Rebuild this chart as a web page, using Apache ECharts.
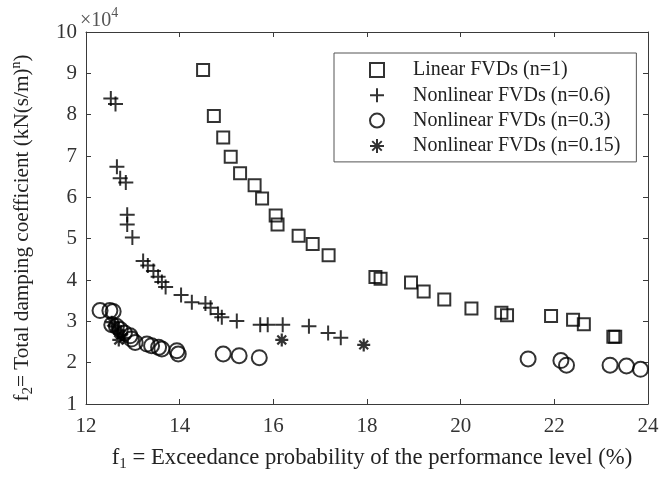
<!DOCTYPE html>
<html><head><meta charset="utf-8">
<script src="https://cdn.jsdelivr.net/npm/echarts@6/dist/echarts.min.js"></script>
<style>html,body{margin:0;padding:0;background:#fff}#c{width:672px;height:477px}</style>
</head><body><div id="c"></div>
<script>
// x: exceedance probability (%), y: total damping coefficient (kN(s/m)^n)
const linearX = [14.50,14.73,14.93,15.09,15.29,15.60,15.76,16.05,16.09,16.54,16.84,17.18,18.18,18.29,18.94,19.21,19.65,20.23,20.87,20.99,21.93,22.40,22.63,23.26,23.30];
const linearY = [90800,79700,74500,69800,65800,62900,59700,55600,53400,50700,48700,46000,40700,40300,39400,37200,35300,33100,32100,31500,31300,30400,29300,26300,26300];
const n06X = [12.53,12.63,12.66,12.73,12.85,12.88,12.88,12.99,13.22,13.32,13.44,13.54,13.62,13.70,14.03,14.26,14.55,14.66,14.82,14.90,15.22,15.72,15.88,16.20,16.76,17.17,17.44];
const n06Y = [83900,82600,67400,64600,63600,55800,53400,50300,44600,43500,42200,40800,39500,38300,36400,34600,34300,33300,31800,31000,30100,29200,29200,29200,28800,27200,26000];
const n03X = [12.30,12.51,12.58,12.55,12.65,12.73,12.82,12.94,12.97,13.05,13.30,13.40,13.55,13.62,13.94,13.97,14.93,15.27,15.70,21.44,22.14,22.26,23.19,23.54,23.84];
const n03Y = [32600,32600,32400,29200,28800,28000,27200,26500,25700,24900,24500,24100,23700,23300,22900,22100,22100,21700,21200,20900,20500,19400,19400,19200,18400];
const n015X = [12.55,12.62,12.68,12.75,12.80,12.70,16.18,17.93];
const n015Y = [29800,28800,27800,26800,26000,25500,25500,24300];
const seriesNames = ['Linear FVDs (n=1)','Nonlinear FVDs (n=0.6)','Nonlinear FVDs (n=0.3)','Nonlinear FVDs (n=0.15)'];
const xTicks = [12,14,16,18,20,22,24];
const yTicks = [1,2,3,4,5,6,7,8,9,10];

const zip = (a,b) => a.map((v,i)=>[v,b[i]]);
const plusPath = 'path://M5,0L5,10M0,5L10,5';
const starPath = 'path://M5,0L5,10M0,5L10,5M1.6,1.6L8.4,8.4M8.4,1.6L1.6,8.4';
const ink = '#000';
const axisCol = '#3a3a3a';
const font = '"Liberation Serif", "Times New Roman", serif';
const hollow = {color:'rgba(0,0,0,0)', borderColor:ink, borderWidth:2};

const chart = echarts.init(document.getElementById('c'), null, {renderer:'canvas'});
const xAxisBase = {
  type:'value', min:xTicks[0], max:xTicks[xTicks.length-1], interval:2,
  splitLine:{show:false},
  axisLine:{show:true, onZero:false, lineStyle:{color:axisCol, width:1}},
  axisTick:{show:true, inside:true, length:5, lineStyle:{color:axisCol}},
};
const yAxisBase = {
  type:'value', min:yTicks[0]*1e4, max:yTicks[yTicks.length-1]*1e4, interval:1e4,
  splitLine:{show:false},
  axisLine:{show:true, onZero:false, lineStyle:{color:axisCol, width:1}},
  axisTick:{show:true, inside:true, length:5, lineStyle:{color:axisCol}},
};
chart.setOption({
  animation:false,
  backgroundColor:'#fff',
  grid:{left:86, right:24, top:32, bottom:64, containLabel:false},
  xAxis:[
    Object.assign({}, xAxisBase, {position:'bottom',
      axisLabel:{color:'#333', fontFamily:font, fontSize:21, margin:12},
      name:'{a|f}{s|1}{a| = Exceedance probability of the performance level (%)}',
      nameLocation:'middle', nameGap:40,
      nameTextStyle:{padding:[0,0,0,10], rich:{
        a:{fontFamily:font, fontSize:22.7, color:'#222'},
        s:{fontFamily:font, fontSize:15, color:'#222', padding:[13,0,0,0]}
      }}
    }),
    Object.assign({}, xAxisBase, {position:'top', axisLabel:{show:false}})
  ],
  yAxis:[
    Object.assign({}, yAxisBase, {position:'left',
      axisLabel:{color:'#333', fontFamily:font, fontSize:21, margin:9, formatter:v=>String(Math.round(v/1e4))},
      name:'{a|f}{s|2}{a|= Total damping coefficient (kN(s/m)}{p|n}{a|)}',
      nameLocation:'middle', nameGap:50, nameRotate:90,
      nameTextStyle:{padding:[0,20,0,0], rich:{
        a:{fontFamily:font, fontSize:21.2, color:'#222'},
        s:{fontFamily:font, fontSize:15, color:'#222', padding:[13,0,0,0]},
        p:{fontFamily:font, fontSize:14, color:'#222', padding:[0,0,11,0]}
      }}
    }),
    Object.assign({}, yAxisBase, {position:'right', axisLabel:{show:false}})
  ],
  legend:{
    orient:'vertical', left:334, top:53,
    padding:[7,16,6,35],
    borderColor:'#555', borderWidth:1, backgroundColor:'#fff',
    itemWidth:14, itemHeight:14, itemGap:5.3,
    textStyle:{fontFamily:font, fontSize:20, color:'#222', lineHeight:20, padding:[0,0,0,24]},
    data:seriesNames
  },
  graphic:[{
    type:'text', left:80, top:6,
    style:{text:'{a|×10}{b|4}', rich:{
      a:{fontFamily:font, fontSize:20, fill:'#555', padding:[8,0,0,0]},
      b:{fontFamily:font, fontSize:14, fill:'#555', padding:[0,0,8,0]}
    }}
  }],
  series:[
    {name:seriesNames[0], type:'scatter', data:zip(linearX, linearY), symbol:'rect', symbolSize:12, itemStyle:hollow},
    {name:seriesNames[1], type:'scatter', data:zip(n06X, n06Y), symbol:plusPath, symbolSize:15, itemStyle:{color:'rgba(0,0,0,0)', borderColor:ink, borderWidth:2}},
    {name:seriesNames[2], type:'scatter', data:zip(n03X, n03Y), symbol:'circle', symbolSize:15, itemStyle:hollow},
    {name:seriesNames[3], type:'scatter', data:zip(n015X, n015Y), symbol:starPath, symbolSize:13, itemStyle:{color:'rgba(0,0,0,0)', borderColor:ink, borderWidth:2.2}}
  ]
});
</script></body></html>
